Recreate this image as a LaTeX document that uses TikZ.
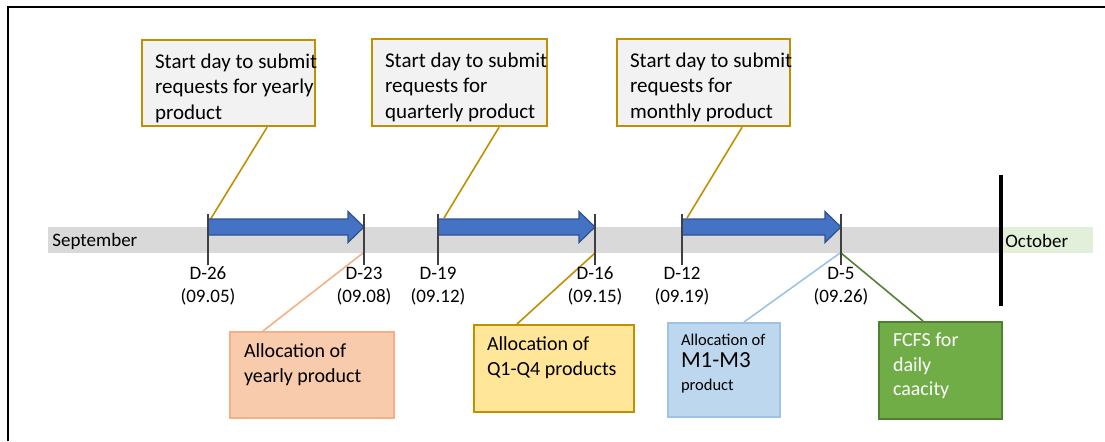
\documentclass[tikz,border=0pt]{standalone}
\usepackage{fontspec}
\setmainfont{Carlito}

\definecolor{gold}{HTML}{BF9000}
\definecolor{boxgray}{HTML}{F2F2F2}
\definecolor{bandgray}{HTML}{D9D9D9}
\definecolor{octgreen}{HTML}{E2F0D9}
\definecolor{arrowblue}{HTML}{4472C4}
\definecolor{arrowedge}{HTML}{2F528F}
\definecolor{tickgray}{HTML}{404040}
\definecolor{orangefill}{HTML}{F8CBAD}
\definecolor{orangeline}{HTML}{F4B183}
\definecolor{yellowfill}{HTML}{FFE699}
\definecolor{bluefill}{HTML}{BDD7EE}
\definecolor{blueline}{HTML}{9DC3E6}
\definecolor{greenfill}{HTML}{70AD47}
\definecolor{greenline}{HTML}{507E32}
\definecolor{greenconn}{HTML}{548235}

\newcommand{\boxtext}[3]{\parbox[t][#2][t]{#1}{\raggedright\rightskip=-10pt plus 1fil\relax\strut #3}}

\begin{document}
\begin{tikzpicture}[x=0.5pt, y=-0.5pt,
  reqbox/.style={draw=gold, fill=boxgray, line width=1.1pt, inner xsep=6.5pt, inner ysep=5.25pt, anchor=north west, font=\fontsize{10.5}{12.75}\selectfont},
  allocbox/.style={line width=1pt, inner xsep=7pt, inner ysep=3.75pt, anchor=north west, font=\fontsize{10}{12.5}\selectfont},
  daylbl/.style={font=\fontsize{9.5}{11}\selectfont, inner sep=0pt},
  monthlbl/.style={font=\fontsize{9.5}{11}\selectfont, anchor=west, inner xsep=2pt},
  conn/.style={line width=0.8pt},
  daytick/.style={draw=tickgray, line width=0.6pt},
  blockarrow/.style={fill=arrowblue, draw=arrowedge, line width=0.6pt, line join=miter}]
\useasboundingbox (0,0) rectangle (1105,441);

% Frame
\draw[line width=1pt] (8,441) -- (8,7) -- (1105,7);

% Month band
\fill[bandgray] (48,227) rectangle (1001,253);
\fill[octgreen] (1001,227) rectangle (1093,253);
\node[monthlbl] (sep) at (48,241) {September};
\node[monthlbl] (oct) at (1001,241) {October};
\draw[line width=1.75pt] (1001,175) -- (1001,306);

% Day positions
\coordinate (t26) at (208,227);
\coordinate (t23) at (364,227);
\coordinate (t19) at (438,227);
\coordinate (t16) at (595,227);
\coordinate (t12) at (682,227);
\coordinate (t5) at (841,227);

% Request boxes
\node[reqbox] (req1) at (141,39) {\boxtext{73.5pt}{32.5pt}{Start day to submit\\requests for yearly\\product}};
\node[reqbox] (req2) at (371,38) {\boxtext{74.5pt}{33pt}{Start day to submit\\requests for\\quarterly product}};
\node[reqbox] (req3) at (616,38) {\boxtext{73.5pt}{33pt}{Start day to submit\\requests for\\monthly product}};

% Allocation boxes
\node[allocbox, draw=orangeline, fill=orangefill] (allocy) at (229,331) {\boxtext{68pt}{35.5pt}{Allocation of\\yearly product}};
\node[allocbox, draw=gold, fill=yellowfill, inner xsep=6.5pt] (allocq) at (473,324) {\boxtext{67pt}{36pt}{Allocation of\\Q1-Q4 products}};
\node[allocbox, draw=blueline, fill=bluefill, inner xsep=6.5pt, inner ysep=3.3pt, font=\fontsize{8.25}{11.25}\selectfont] (allocm) at (667,322) {\boxtext{43pt}{40.4pt}{Allocation of\\{\fontsize{11.5}{11.25}\selectfont M1-M3}\\product}};
\node[allocbox, draw=greenline, fill=greenfill, text=white, font=\fontsize{10}{12.25}\selectfont] (fcfs) at (878,321) {\boxtext{47.5pt}{41pt}{FCFS for\\daily\\caacity}};

% Connectors
\draw[conn, gold] ([xshift=19.25pt]req1.south) -- ([shift={(2,-7)}]t26);
\draw[conn, gold] ([xshift=19.75pt]req2.south) -- ([shift={(6,-9)}]t19);
\draw[conn, gold] ([xshift=19.25pt]req3.south) -- ([shift={(5,-9)}]t12);
\draw[conn, orangeline] ([xshift=-24.5pt]allocy.north) -- ([shift={(-1,26)}]t23);
\draw[conn, gold] ([xshift=-18.5pt]allocq.north) -- ([shift={(0,26)}]t16);
\draw[conn, blueline] ([xshift=10pt]allocm.north) -- ([shift={(-1,26)}]t5);
\draw[conn, greenconn] ([xshift=-8.75pt]fcfs.north) -- ([shift={(0,26)}]t5);

% Block arrows between days
\foreach \a/\b in {t26/t23, t19/t16, t12/t5}
  \draw[blockarrow] ([shift={(0,-8)}]\a) -- ([shift={(-16,-8)}]\b) -- ([shift={(-16,-15.5)}]\b)
    -- (\b) -- ([shift={(-16,15.5)}]\b) -- ([shift={(-16,8)}]\b) -- ([shift={(0,8)}]\a) -- cycle;

% Ticks and day labels
\foreach \t/\d/\dt in {t26/26/09.05, t23/23/09.08, t19/19/09.12, t16/16/09.15, t12/12/09.19, t5/5/09.26} {
  \draw[daytick] ([shift={(0,-13)}]\t) -- ([shift={(0,38)}]\t);
  \node[daylbl] (day\d) at ([shift={(0,46)}]\t) {D-\d};
  \node[daylbl] (date\d) at ([shift={(0,70)}]\t) {(\dt)};
}
\end{tikzpicture}
\end{document}
